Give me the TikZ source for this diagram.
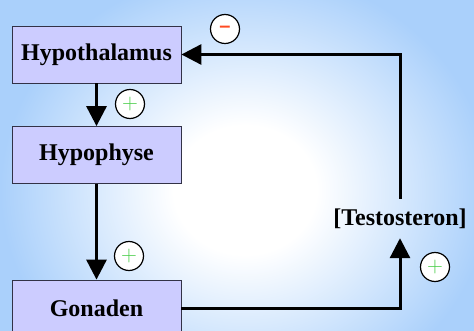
\documentclass[tikz,border=0pt]{standalone}
\usepackage{fontspec}
\newfontfamily\labelfont{Liberation Serif}
\newfontfamily\signfont{Liberation Sans}
\usetikzlibrary{arrows.meta}
\definecolor{bgblue}{RGB}{170,208,251}
\definecolor{boxfill}{RGB}{204,204,255}
\definecolor{boxborder}{RGB}{50,50,70}
\definecolor{minusred}{RGB}{255,75,35}
\definecolor{plusgreen}{RGB}{70,205,70}
\pgfdeclareradialshading{bgshade}{\pgfpoint{0bp}{0bp}}{color(0bp)=(white); color(7bp)=(white); color(24bp)=(bgblue); color(50bp)=(bgblue)}
\newcommand\plussign{\textcolor{plusgreen}{\raisebox{-3.5pt}{\fontsize{22}{22}\selectfont +}}}
\newcommand\minussign{\textcolor{minusred}{\raisebox{-2.3pt}{\signfont\bfseries\fontsize{20}{20}\selectfont –}}}
\begin{document}
\begin{tikzpicture}[x=1pt,y=-1pt,
  hbox/.style={draw=boxborder, line width=0.8pt, fill=boxfill, minimum width=169pt, minimum height=57pt, inner sep=0pt, font=\labelfont\bfseries\fontsize{24}{28}\selectfont},
  tlabel/.style={inner sep=0pt, minimum height=39pt, font=\labelfont\bfseries\fontsize{24}{28}\selectfont},
  sign/.style={circle, draw=black, line width=1.2pt, fill=white, minimum size=29pt, inner sep=0pt},
  flow/.style={line width=3pt, -{Triangle[width=20pt,length=20pt]}}
]
\useasboundingbox (0,0) rectangle (474,331);
\clip (0,0) rectangle (474,331);
\shade[shading=bgshade] (-10,-40) rectangle (500,420);
\node[hbox] (hyp) at (96.5,54.5) {Hypothalamus};
\node[hbox] (hph) at (96.5,155) {Hypophyse};
\node[hbox] (gon) at (96.5,308.5) {Gonaden};
\node[tlabel] (testo) at (400,218.5) {[Testosteron]};
\draw[flow] (hyp.south) -- (hph.north);
\draw[flow] (hph.south) -- (gon.north);
\draw[flow] (gon.east) -| (testo.south);
\draw[flow] (testo.north) |- (hyp.east);
\node[sign] (m1) at (225,29) {\minussign};
\node[sign] (p1) at (130,104) {\plussign};
\node[sign] (p2) at (129,256) {\plussign};
\node[sign] (p3) at (435,267) {\plussign};
\end{tikzpicture}
\end{document}
